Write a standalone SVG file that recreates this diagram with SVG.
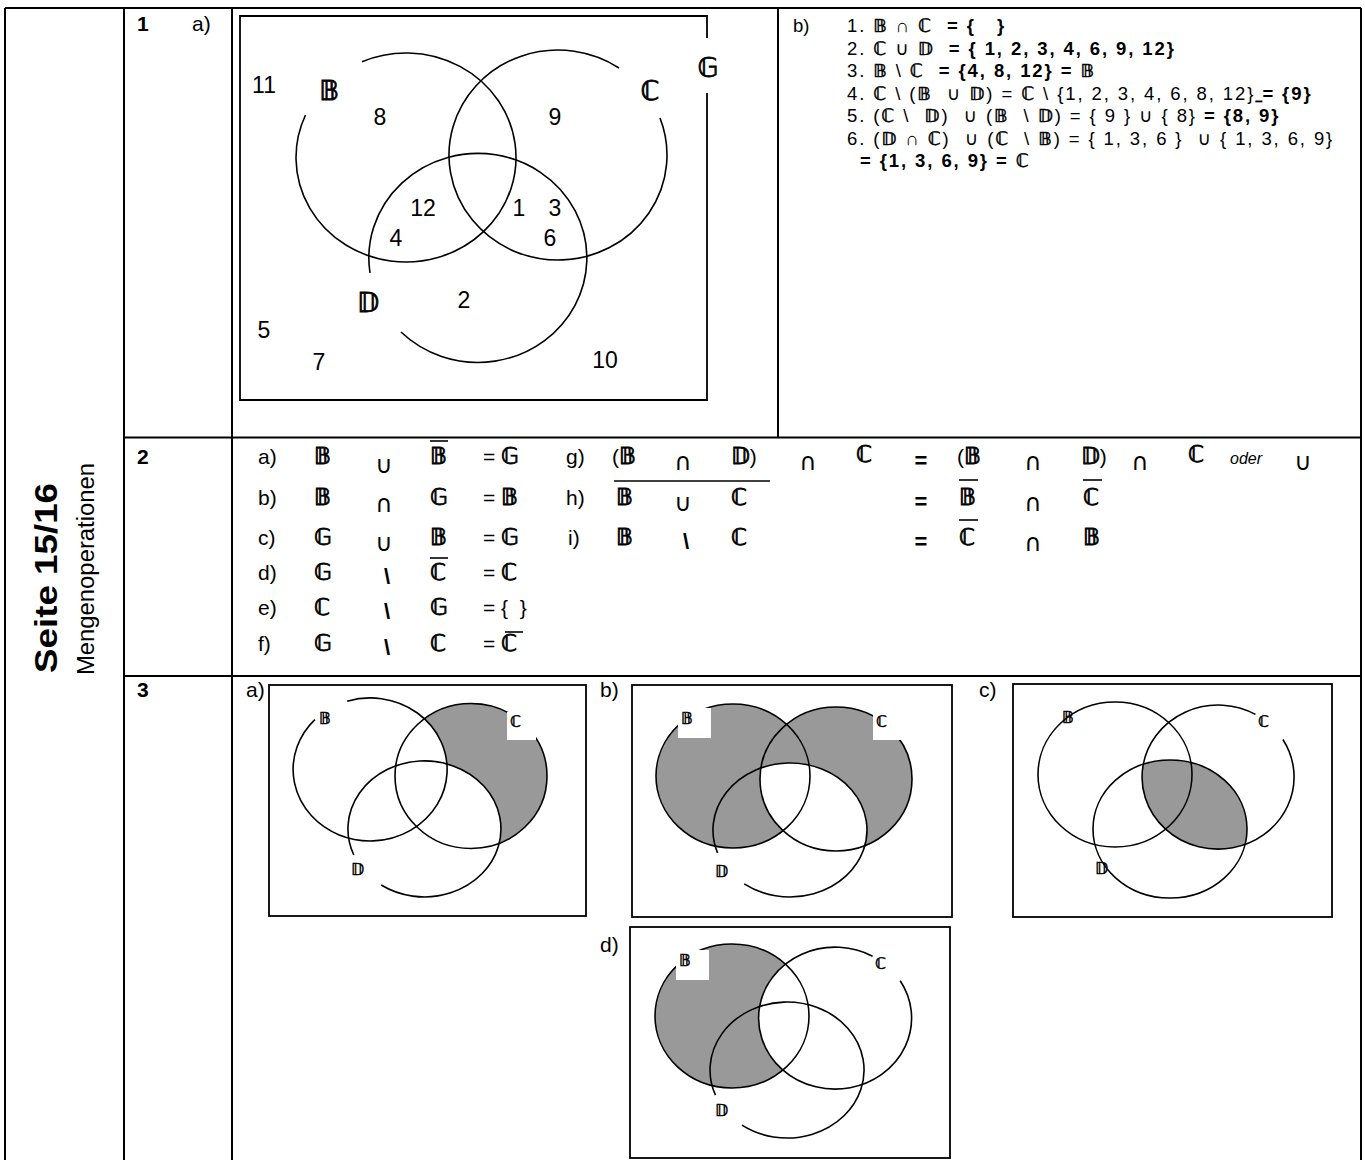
<svg xmlns="http://www.w3.org/2000/svg" width="1365" height="1160" viewBox="0 0 1365 1160">
<style>
  text { font-family: 'Liberation Sans', Arial, 'DejaVu Sans', sans-serif; fill: #000; white-space: pre; }
  .b { font-weight: bold; }
  .ds { font-family: 'DejaVu Sans', sans-serif; font-weight: normal; stroke: #000; stroke-width: 0.8px; }
  .r .ds, .s3.ds { stroke-width: 0.5px; }
  .grid { stroke: #000; stroke-width: 2; fill: none; }
  .c { fill: none; stroke: #000; stroke-width: 1.6; }
  .sh { fill: #999; }
  .w { fill: #fff; }
  .box { fill: none; stroke: #000; stroke-width: 1.8; }
  .s1 { font-size: 23px; }
  .s2 { font-size: 21px; }
  .d2 { font-size: 23px; }
  .s3 { font-size: 16px; }
  .r { font-size: 18.5px; letter-spacing: 1.9px; }
  .m { text-anchor: middle; }
  .op { font-size: 24px; text-anchor: middle; font-family: 'DejaVu Sans', sans-serif; }
  .bs { font-size: 22px; text-anchor: middle; font-weight: bold; }
  .ol { stroke: #000; stroke-width: 1.6; }
</style>
<rect width="1365" height="1160" fill="#fff"/>

<g id="table" class="grid">
  <path d="M5 8 H1361 M5 8 V1160 M1361 8 V1160 M124 8 V1160 M232 8 V1160 M124 437.5 H1361 M124 676 H1361 M778 8 V437.5"/>
</g>

<g id="title">
  <text class="b" font-size="32" transform="translate(57,673) rotate(-90)" textLength="190" lengthAdjust="spacingAndGlyphs">Seite 15/16</text>
  <text font-size="23" transform="translate(94,675) rotate(-90)" textLength="212" lengthAdjust="spacingAndGlyphs">Mengenoperationen</text>
</g>

<g id="labels">
  <text class="s2 b" x="137" y="31">1</text>
  <text class="s2" x="192" y="31">a)</text>
  <text class="s2 b" x="137" y="464">2</text>
  <text class="s2 b" x="137" y="697">3</text>
</g>

<g id="venn1">
  <path class="box" d="M707 38 V16 H240 V400 H707 V93" stroke="#333" stroke-width="2.4"/>
  <path class="c" d="M362 61.7 A110 104.5 0 1 1 305.5 115"/>
  <path class="c" d="M660 118 A109 105 0 1 1 619 68"/>
  <path class="c" d="M370 273 A109 104.5 0 1 1 401 332"/>
  <g class="s1 m">
    <text x="264" y="93">11</text>
    <text x="380" y="125">8</text>
    <text x="555" y="125">9</text>
    <text x="423" y="216">12</text>
    <text x="519" y="216">1</text>
    <text x="555" y="216">3</text>
    <text x="396" y="246">4</text>
    <text x="550" y="246">6</text>
    <text x="464" y="308">2</text>
    <text x="264" y="338">5</text>
    <text x="319" y="370">7</text>
    <text x="605" y="368">10</text>
  </g>
  <g class="ds m" font-size="27">
    <text x="329" y="100">𝔹</text>
    <text x="650" y="100">ℂ</text>
    <text x="708" y="77">𝔾</text>
    <text x="368" y="312">𝔻</text>
  </g>
</g>

<g id="answers1b" class="r">
  <text x="793" y="32" style="letter-spacing:0">b)</text>
  <text x="847" y="32">1. <tspan class="ds">𝔹</tspan> ∩ <tspan class="ds">ℂ</tspan>  <tspan class="b">= {   }</tspan></text>
  <text x="847" y="54.5">2. <tspan class="ds">ℂ</tspan> ∪ <tspan class="ds">𝔻</tspan>  <tspan class="b">= { 1, 2, 3, 4, 6, 9, 12}</tspan></text>
  <text x="847" y="77">3. <tspan class="ds">𝔹</tspan> \ <tspan class="ds">ℂ</tspan>  <tspan class="b">= {4, 8, 12} = </tspan><tspan class="ds">𝔹</tspan></text>
  <text x="847" y="99.5">4. <tspan class="ds">ℂ</tspan> \ (<tspan class="ds">𝔹</tspan>  ∪ <tspan class="ds">𝔻</tspan>) = <tspan class="ds">ℂ</tspan> \ {1, 2, 3, 4, 6, 8, 12}<tspan text-decoration="underline"> </tspan><tspan class="b">= {9}</tspan></text>
  <text x="847" y="122">5. (<tspan class="ds">ℂ</tspan> \  <tspan class="ds">𝔻</tspan>)  ∪ (<tspan class="ds">𝔹</tspan>  \ <tspan class="ds">𝔻</tspan>) = { 9 } ∪ { 8} <tspan class="b">= {8, 9}</tspan></text>
  <text x="847" y="144.5">6. (<tspan class="ds">𝔻</tspan> ∩ <tspan class="ds">ℂ</tspan>)  ∪ (<tspan class="ds">ℂ</tspan>  \ <tspan class="ds">𝔹</tspan>) = { 1, 3, 6 }  ∪ { 1, 3, 6, 9}</text>
  <text x="860" y="167" class="b">= {1, 3, 6, 9} = <tspan class="ds">ℂ</tspan></text>
</g>

<g id="task2left" class="s2">
  <text x="258" y="464">a)</text><text x="314" y="464" class="ds d2">𝔹</text><text x="384" y="473" class="op">∪</text><text x="430" y="464" class="ds d2">𝔹</text><text x="483" y="464">= <tspan class="ds d2">𝔾</tspan></text>
  <text x="258" y="505">b)</text><text x="314" y="505" class="ds d2">𝔹</text><text x="384" y="512" class="op">∩</text><text x="430" y="505" class="ds d2">𝔾</text><text x="483" y="505">= <tspan class="ds d2">𝔹</tspan></text>
  <text x="258" y="545">c)</text><text x="314" y="545" class="ds d2">𝔾</text><text x="384" y="551" class="op">∪</text><text x="430" y="545" class="ds d2">𝔹</text><text x="483" y="545">= <tspan class="ds d2">𝔾</tspan></text>
  <text x="258" y="580">d)</text><text x="314" y="580" class="ds d2">𝔾</text><text x="387" y="584" class="bs">\</text><text x="430" y="580" class="ds d2">ℂ</text><text x="483" y="580">= <tspan class="ds d2">ℂ</tspan></text>
  <text x="258" y="615">e)</text><text x="314" y="615" class="ds d2">ℂ</text><text x="387" y="619" class="bs">\</text><text x="430" y="615" class="ds d2">𝔾</text><text x="483" y="615">= {  }</text>
  <text x="258" y="651">f)</text><text x="314" y="651" class="ds d2">𝔾</text><text x="387" y="655" class="bs">\</text><text x="430" y="651" class="ds d2">ℂ</text><text x="483" y="651">= <tspan class="ds d2">ℂ</tspan></text>
  <line class="ol" x1="430" y1="441" x2="448" y2="441"/>
  <line class="ol" x1="430" y1="558" x2="448" y2="558"/>
  <line class="ol" x1="505" y1="632" x2="523" y2="632"/>
</g>

<g id="task2right" class="s2">
  <text x="566" y="464">g)</text><text x="612" y="464">(<tspan class="ds d2">𝔹</tspan></text><text x="683" y="470" class="op">∩</text><text x="731" y="464"><tspan class="ds d2">𝔻</tspan>)</text><text x="808" y="470" class="op">∩</text><text x="856" y="462" class="ds d2">ℂ</text>
  <text x="921" y="468" class="m b" font-size="22">=</text>
  <text x="957" y="464">(<tspan class="ds d2">𝔹</tspan></text><text x="1033" y="470" class="op">∩</text><text x="1081" y="464"><tspan class="ds d2">𝔻</tspan>)</text><text x="1140" y="470" class="op">∩</text><text x="1188" y="462" class="ds d2">ℂ</text>
  <text x="1230" y="464" font-size="16" font-style="italic">oder</text><text x="1303" y="470" class="op">∪</text>
  <text x="566" y="505">h)</text><text x="616" y="505" class="ds d2">𝔹</text><text x="683" y="511" class="op">∪</text><text x="731" y="505" class="ds d2">ℂ</text>
  <text x="921" y="509" class="m b" font-size="22">=</text>
  <text x="959" y="505" class="ds d2">𝔹</text><text x="1033" y="511" class="op">∩</text><text x="1083" y="505" class="ds d2">ℂ</text>
  <text x="568" y="545">i)</text><text x="616" y="545" class="ds d2">𝔹</text><text x="686" y="549" class="bs">\</text><text x="731" y="545" class="ds d2">ℂ</text>
  <text x="921" y="549" class="m b" font-size="22">=</text>
  <text x="959" y="545" class="ds d2">ℂ</text><text x="1033" y="551" class="op">∩</text><text x="1083" y="545" class="ds d2">𝔹</text>
  <line class="ol" x1="614" y1="481" x2="770" y2="481"/>
  <line class="ol" x1="959" y1="480" x2="978" y2="480"/>
  <line class="ol" x1="1083" y1="480" x2="1102" y2="480"/>
  <line class="ol" x1="959" y1="520" x2="978" y2="520"/>
</g>

<defs>
  <clipPath id="clipCb"><ellipse cx="836" cy="779" rx="76" ry="72"/></clipPath>
  <clipPath id="clipCc"><ellipse cx="1218" cy="777" rx="76" ry="72"/></clipPath>
</defs>

<g id="venn3a">
  <text class="s2" x="246" y="697">a)</text>
  <rect class="box" x="269" y="685" width="317" height="231"/>
  <ellipse class="sh" cx="471" cy="776" rx="76" ry="72.5"/>
  <ellipse class="w" cx="370" cy="769.5" rx="77" ry="71.5"/>
  <ellipse class="w" cx="424.5" cy="829" rx="76.5" ry="68"/>
  <path class="c" d="M347.1 701.2 A77 71.5 0 1 1 314.9 719.6"/>
  <ellipse class="c" cx="471" cy="776" rx="76" ry="72.5"/>
  <path class="c" d="M353.8 855 A76.5 68 0 1 1 381.2 885"/>
  <rect class="w" x="507" y="712" width="29" height="28"/>
  <g class="s3 ds">
    <text x="319" y="724">𝔹</text>
    <text x="510" y="727">ℂ</text>
    <text x="351" y="875">𝔻</text>
  </g>
</g>

<g id="venn3b">
  <text class="s2" x="600" y="697">b)</text>
  <rect class="box" x="632" y="685" width="320" height="232"/>
  <ellipse class="sh" cx="733" cy="776" rx="77" ry="72"/>
  <ellipse class="sh" cx="836" cy="779" rx="76" ry="72"/>
  <ellipse class="w" cx="790" cy="830" rx="77" ry="67" clip-path="url(#clipCb)"/>
  <ellipse class="c" cx="733" cy="776" rx="77" ry="72"/>
  <ellipse class="c" cx="836" cy="779" rx="76" ry="72"/>
  <path class="c" d="M717.6 852.9 A77 67 0 1 1 744.2 883.9"/>
  <rect class="w" x="678" y="708" width="33" height="30"/>
  <rect class="w" x="873" y="708" width="29" height="32"/>
  <g class="s3 ds">
    <text x="681" y="724">𝔹</text>
    <text x="876" y="727">ℂ</text>
    <text x="715" y="877">𝔻</text>
  </g>
</g>

<g id="venn3c">
  <text class="s2" x="979" y="697">c)</text>
  <rect class="box" x="1013" y="684" width="319" height="233"/>
  <ellipse class="sh" cx="1170" cy="829" rx="77" ry="69" clip-path="url(#clipCc)"/>
  <ellipse class="c" cx="1115" cy="774.5" rx="77" ry="72.5"/>
  <path class="c" d="M1282.9 739.5 A76 72 0 1 1 1255.5 714.4"/>
  <ellipse class="c" cx="1170" cy="829" rx="77" ry="69"/>
  <g class="s3 ds">
    <text x="1062" y="723">𝔹</text>
    <text x="1258" y="727">ℂ</text>
    <text x="1095" y="874">𝔻</text>
  </g>
</g>

<g id="venn3d">
  <text class="s2" x="600" y="952">d)</text>
  <rect class="box" x="630" y="927" width="320" height="231"/>
  <ellipse class="sh" cx="732" cy="1016" rx="77" ry="72"/>
  <ellipse class="w" cx="835" cy="1018" rx="76.5" ry="71"/>
  <ellipse class="c" cx="732" cy="1016" rx="77" ry="72"/>
  <path class="c" d="M900.2 980.8 A76.5 71 0 1 1 872.6 956.2"/>
  <path class="c" d="M715.5 1095.2 A77 68 0 1 1 742 1125.2"/>
  <rect class="w" x="676" y="950" width="33" height="30"/>
  <g class="s3 ds">
    <text x="679" y="966">𝔹</text>
    <text x="875" y="969">ℂ</text>
    <text x="715" y="1116">𝔻</text>
  </g>
</g>
</svg>
